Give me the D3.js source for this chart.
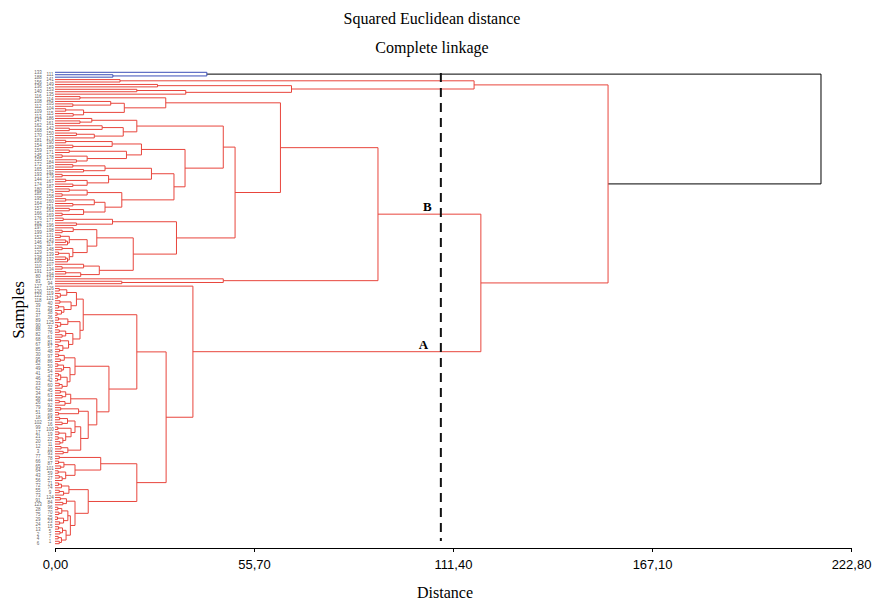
<!DOCTYPE html>
<html>
<head>
<meta charset="utf-8">
<script src="https://cdn.jsdelivr.net/npm/d3@7"></script>
<style>
  html, body { margin: 0; padding: 0; background: #fff; }
  svg { display: block; }
</style>
</head>
<body>
<svg id="chart" width="891" height="603"></svg>
<script>
// ---------------- DATA ----------------
// Sub-trees written as "(childA,childB)height"; leaves are sample numbers.
const blueCluster = "(133,(111,188)16.2)42.5";
const topCluster  = "((141,156)18.2,((149,136)28.7,((153,140)22.9,135)36.6)66.2)117.3";
const clusterB_U1 = "((116,114)7,((108,(105,112)5)15.6,((104,109)3,(115,113)5.1)8)19.4)31";
const clusterB_P  = "((186,(147,161)7)10.3,((162,(142,168)4)13.2,((150,170)6,173)11)19.1)22.9";
const clusterB_Q1 = "(((181,190)3,(154,189)5)16,((159,171)4,((145,178)2,(155,184)6)9)20)24.2";
const clusterB_Q2 = "((((172,183)5,(165,192)8)14,((193,179)2,((144,167)3,(174,187)5)9)15)27,(((180,175)4,(185,158)2)9,(((195,160)3,(164,151)5)11,((157,163)4,(166,169)2)8)14)18.7)33.3";
const clusterB_W  = "((176,177)2.3,(182,196)6)16.1";
const clusterB_V1 = "((197,(198,199)2)5.1,(((131,152)1.5,((143,146)3,117)3.5)4,((128,148)2,((129,139)1,((138,132)3,106)3.5)4)5)9)11.7";
const clusterB_V2 = "((107,(110,134)2)8,((191,194)3,80)7.2)12.4";
const clusterB_low = "(137,(83,94)18.7)47.1";
const clusterA_a1 = "((((126,120)1.2,(119,(122,121)0.8)1.5)3.3,((118,40)1.4,((39,35)1,(31,(38,37)0.6)1.8)2.5)4.5)6,(((36,89)1,(125,(90,32)0.7)1.6)3.6,(((88,76)1.2,(82,61)2)3,((68,81)1.5,((67,57)0.9,(85,48)1.3)2.2)3.8)5)7)7.9";
const clusterA_a2top = "(((30,97)1,(95,86)1.5)2.6,(((52,50)0.8,(49,54)1.9)2.4,(((41,47)1,(46,42)0.7)1.6,((33,60)1.2,62)2)3.4)4.2)5.6";
const clusterA_a2bot = "((((45,34)1.5,(63,58)2)3,((44,26)1.2,92)2.8)4.4,(((79,98)1.6,(51,69)1)6.6,((((18,53)1.3,(102,16)2)3.5,((99,100)0.8,((17,19)1.1,((21,22)0.9,(20,11)1.4)2.2)3)4.5)5.6,((12,10)1.7,(3,93)2.3)3.6)7.2)9.3)11.7";
const clusterA_b1 = "((77,78)1.2,(((66,87)1,(65,101)1.6)2.5,((64,59)0.9,((43,27)1.2,56)2)3)5.6)12.8";
const clusterA_b2 = "((((71,72)1,74)1.8,((55,9)1.2,73)2.4)3.9,(((124,91)1.5,(84,123)2.2)3.2,((((96,28)0.8,(70,75)1.1)1.9,((25,29)0.7,(23,24)1.3)2.4)3.6,(((15,13)1,(5,2)1.4)2.1,((7,4)0.9,(1,6)1.2)1.8)3.1)4.3)5.6)9.3";
// Heights of the upper joins
const joinHeights = { U2top: 36.4, U2topRoot: 47.1, V: 21.9, U2bot: 34, U2: 50.4, Bupper: 63.1, B: 90.4,
  A2a2: 15.1, A2a: 22.9, A2b: 22.9, A2: 31.1, A: 38.6, AB: 119.2, red: 154.8, root: 214.4 };
const cutHeight = 108.0;
const xTicks = [0, 55.7, 111.4, 167.1, 222.8];
const titles = ["Squared Euclidean distance", "Complete linkage"];
const groupLabels = [{t: "B", h: 104.2, y: 207}, {t: "A", h: 103.1, y: 345}];

// ---------------- BUILD TREE ----------------
const H = joinHeights;
const U2top = `(${clusterB_P},(${clusterB_Q1},${clusterB_Q2})${H.U2top})${H.U2topRoot}`;
const U2bot = `(${clusterB_W},(${clusterB_V1},${clusterB_V2})${H.V})${H.U2bot}`;
const clusterB = `((${clusterB_U1},(${U2top},${U2bot})${H.U2})${H.Bupper},${clusterB_low})${H.B}`;
const clusterA = `(127,((${clusterA_a1},(${clusterA_a2top},${clusterA_a2bot})${H.A2a2})${H.A2a},(${clusterA_b1},${clusterA_b2})${H.A2b})${H.A2})${H.A}`;
const full = `(${blueCluster},(${topCluster},(${clusterB},${clusterA})${H.AB})${H.red})${H.root}`;

function parseNewick(s) {
  let i = 0;
  function node() {
    if (s[i] === "(") {
      i++;
      const ch = [node()];
      while (s[i] === ",") { i++; ch.push(node()); }
      i++; // ')'
      let num = "";
      while (i < s.length && /[0-9.]/.test(s[i])) num += s[i++];
      return { children: ch, h: +num };
    }
    let name = "";
    while (i < s.length && !/[,()]/.test(s[i])) name += s[i++];
    return { name: name, h: 0 };
  }
  return node();
}

const root = d3.hierarchy(parseNewick(full));
const leaves = root.leaves();
leaves.forEach((d, i) => d.idx = i);

// colour groups
root.color = "#000";
root.children[0].each(d => d.color = "#3c4fb8");
root.children[1].each(d => d.color = "#e8453c");

// ---------------- SCALES ----------------
const svg = d3.select("#chart");
const x = d3.scaleLinear().domain([0, 222.8]).range([55, 851]);
const y = d3.scalePoint().domain(leaves.map(d => d.idx)).range([72.3, 543.7]);

root.eachAfter(d => {
  if (!d.children) d.yy = y(d.idx);
  else d.yy = (d.children[0].yy + d.children[d.children.length - 1].yy) / 2;
});

// ---------------- DRAW ----------------
const g = svg.append("g");
const segs = [];
root.each(d => {
  if (!d.children) return;
  segs.push({x1: x(d.data.h), x2: x(d.data.h), y1: d.children[0].yy, y2: d.children[d.children.length - 1].yy, c: d.color});
  d.children.forEach(c => {
    segs.push({x1: x(c.data.h), x2: x(d.data.h), y1: c.yy, y2: c.yy, c: d === root ? "#000" : c.color});
  });
});
g.selectAll("line.link").data(segs).join("line")
  .attr("class", "link")
  .attr("x1", d => d.x1).attr("x2", d => d.x2)
  .attr("y1", d => d.y1).attr("y2", d => d.y2)
  .attr("stroke", d => d.c).attr("stroke-width", 1).attr("fill", "none");

// leaf labels in two alternating columns
g.selectAll("text.leaf").data(leaves).join("text")
  .attr("class", "leaf")
  .attr("x", d => d.idx % 2 === 0 ? 38 : 50)
  .attr("y", d => d.yy + 1.6)
  .attr("text-anchor", "middle")
  .attr("font-family", "Liberation Sans, Arial, sans-serif")
  .attr("font-size", 4.5)
  .attr("fill", "#666")
  .text(d => d.data.name);

// cut line
svg.append("line")
  .attr("x1", x(cutHeight)).attr("x2", x(cutHeight))
  .attr("y1", 73).attr("y2", 541)
  .attr("stroke", "#111").attr("stroke-width", 2)
  .attr("stroke-dasharray", "9,6");

// group labels
svg.selectAll("text.grp").data(groupLabels).join("text")
  .attr("class", "grp")
  .attr("x", d => x(d.h)).attr("y", d => d.y + 4)
  .attr("text-anchor", "middle")
  .attr("font-family", "Liberation Serif, Times New Roman, serif")
  .attr("font-weight", "bold").attr("font-size", 13)
  .text(d => d.t);

// axis
const axis = d3.axisBottom(x).tickValues(xTicks)
  .tickFormat(d => d3.format(".2f")(d).replace(".", ","))
  .tickSize(4).tickSizeOuter(0).tickPadding(8);
const ax = svg.append("g").attr("transform", "translate(0,548)").call(axis);
ax.select(".domain").attr("stroke", "#000").attr("stroke-width", 1.2);
ax.selectAll(".tick line").attr("stroke", "#000");
ax.selectAll(".tick text").attr("font-family", "Liberation Sans, Arial, sans-serif")
  .attr("font-size", 13).attr("fill", "#000");

// titles
svg.selectAll("text.title").data(titles).join("text")
  .attr("class", "title")
  .attr("x", 432).attr("y", (d, i) => 24 + i * 29)
  .attr("text-anchor", "middle")
  .attr("font-family", "Liberation Serif, Times New Roman, serif")
  .attr("font-size", 16).attr("fill", "#000")
  .text(d => d);

svg.append("text").attr("x", 445).attr("y", 598)
  .attr("text-anchor", "middle")
  .attr("font-family", "Liberation Serif, Times New Roman, serif")
  .attr("font-size", 16).text("Distance");

svg.append("text")
  .attr("transform", "translate(24,310) rotate(-90)")
  .attr("text-anchor", "middle")
  .attr("font-family", "Liberation Serif, Times New Roman, serif")
  .attr("font-size", 17).text("Samples");
</script>
</body>
</html>
